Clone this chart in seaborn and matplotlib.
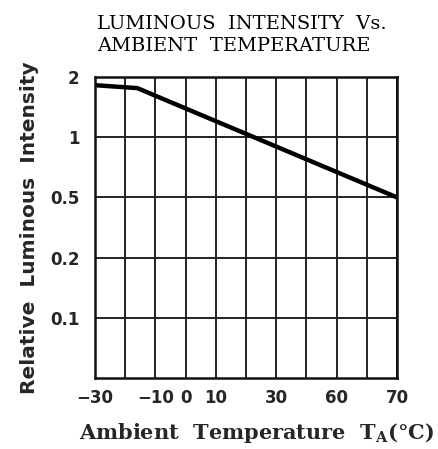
import numpy as np
import seaborn as sns
import matplotlib.pyplot as plt
from matplotlib.scale import FuncScale

# data
temps = [-30, -16, 70]
intensity = [1.82, 1.76, 0.5]

x_ticks = [-30, -10, 0, 10, 30, 50, 70]
x_labels = ['\u221230', '\u221210', '0', '10', '30', '60', '70']
x_grid = [-30, -20, -10, 0, 10, 20, 30, 40, 50, 60, 70]

y_nodes = [0.05, 0.1, 0.2, 0.5, 1, 2]   # evenly spaced on the chart
y_ticks = [0.1, 0.2, 0.5, 1, 2]
y_labels = ['0.1', '0.2', '0.5', '1', '2']

sns.set_style("white")

log_nodes = np.log10(y_nodes)
pos_nodes = np.arange(len(y_nodes), dtype=float)


def fwd(v):
    v = np.clip(np.asarray(v, dtype=float), 1e-6, None)
    return np.interp(np.log10(v), log_nodes, pos_nodes)


def inv(p):
    return 10 ** np.interp(np.asarray(p, dtype=float), pos_nodes, log_nodes)


fig = plt.figure(figsize=(4.38, 4.49), dpi=100)
ax = fig.add_axes([95 / 438, 1 - 378 / 449, 302 / 438, 301 / 449])
ax.set_yscale(FuncScale(ax, (fwd, inv)))

sns.lineplot(x=temps, y=intensity, ax=ax, color='black', linewidth=3.2)

ax.set_xlim(-30, 70)
ax.set_ylim(0.05, 2)
ax.set_xticks(x_ticks)
ax.set_xticklabels(x_labels)
ax.set_xticks(x_grid, minor=True)
ax.set_yticks(y_ticks)
ax.set_yticklabels(y_labels)
ax.yaxis.set_minor_locator(plt.NullLocator())

ax.grid(True, which='both', color='#222222', linewidth=1.4)
ax.tick_params(which='both', length=0)
ax.tick_params(axis='y', pad=11)
ax.tick_params(axis='x', pad=8)
for lab in ax.get_xticklabels() + ax.get_yticklabels():
    lab.set_fontfamily('DejaVu Sans')
    lab.set_fontweight('bold')
    lab.set_fontsize(12)
for s in ax.spines.values():
    s.set_color('#111111')
    s.set_linewidth(1.8)

ax.set_ylabel('Relative  Luminous  Intensity', fontfamily='DejaVu Sans',
              fontweight='bold', fontsize=14.5, labelpad=8)
ax.set_xlabel('Ambient  Temperature  T$_\\mathregular{A}$(\u00b0C)',
              fontfamily='DejaVu Serif', fontweight='bold', fontsize=15)
ax.xaxis.label.set_verticalalignment('center')
ax.xaxis.set_label_coords((256 - 95) / 302, -55 / 301)

fig.text(97 / 438, 1 - 35 / 449, 'LUMINOUS  INTENSITY  Vs.\nAMBIENT  TEMPERATURE',
         ha='left', va='center', fontfamily='DejaVu Serif', fontsize=14,
         color='black', linespacing=1.3)

fig.savefig('out.png', dpi=100)
